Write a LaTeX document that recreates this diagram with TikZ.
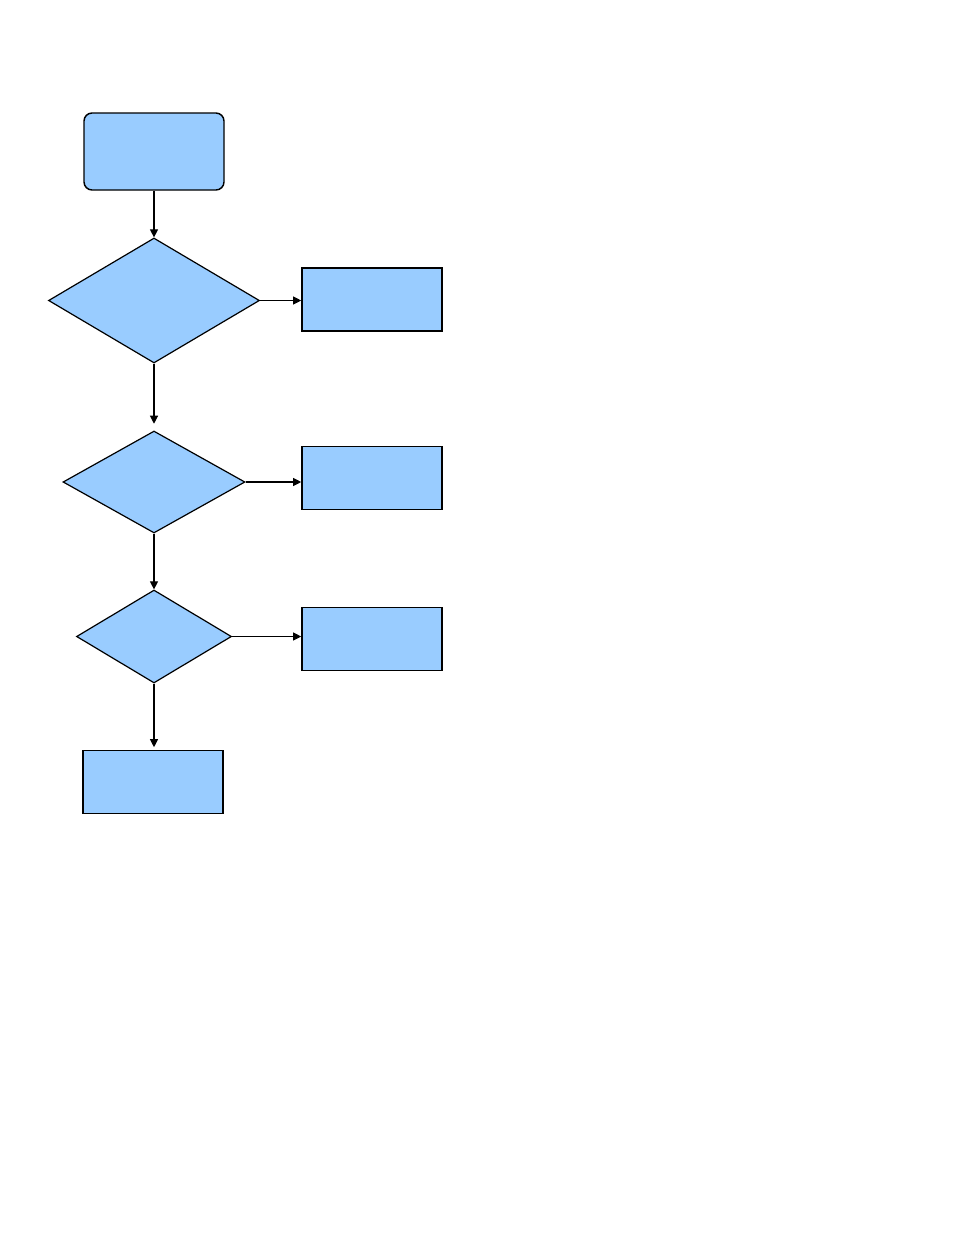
\documentclass[tikz,border=0pt]{standalone}
\usepackage{tikz}
\usetikzlibrary{arrows.meta,positioning,shapes.geometric}
\usepackage{xcolor}
\definecolor{boxblue}{RGB}{153,204,255}

\begin{document}
\begin{tikzpicture}[x=0.75pt,y=-0.75pt,
    startbox/.style={draw=black,fill=boxblue,line width=1.1pt,rounded corners=6pt,
      minimum width=105pt,minimum height=57.75pt,inner sep=0pt},
    actbox/.style={draw=black,fill=boxblue,line width=1.2pt,
      minimum width=105pt,minimum height=47pt,inner sep=0pt},
    decision/.style={diamond,draw=black,fill=boxblue,line width=0.9pt,inner sep=0pt},
    flow/.style={draw=black,line width=0.8pt,-{Triangle[length=6pt,width=6pt]}}]
        \useasboundingbox (0,0) rectangle (954,1235);
        % main column
        \node[startbox] (start) at (154,151.5) {};
        \node[decision,minimum width=158.25pt,minimum height=93.75pt] (dec1) at (154,300.5) {};
        \node[decision,minimum width=136.5pt,minimum height=76.5pt] (dec2) at (154,482) {};
        \node[decision,minimum width=116.25pt,minimum height=69.75pt] (dec3) at (154,636.5) {};
        \node[actbox] (final) at (153,782) {};
        % side boxes
        \node[actbox] (side1) at (372,299.5) {};
        \node[actbox] (side2) at (372,478) {};
        \node[actbox] (side3) at (372,639) {};
        \draw[flow] (start.south) -- (dec1.north);
        \draw[flow,shorten >=5pt] (dec1.south) -- (dec2.north);
        \draw[flow] (dec2.south) -- (dec3.north);
        \draw[flow,shorten >=2pt] (dec3.south) -- (final.north -| dec3.south);
        \draw[flow] (dec1.east) -- (dec1.east -| side1.west);
        \draw[flow] (dec2.east) -- (dec2.east -| side2.west);
        \draw[flow] (dec3.east) -- (dec3.east -| side3.west);
      \end{tikzpicture}
\end{document}
